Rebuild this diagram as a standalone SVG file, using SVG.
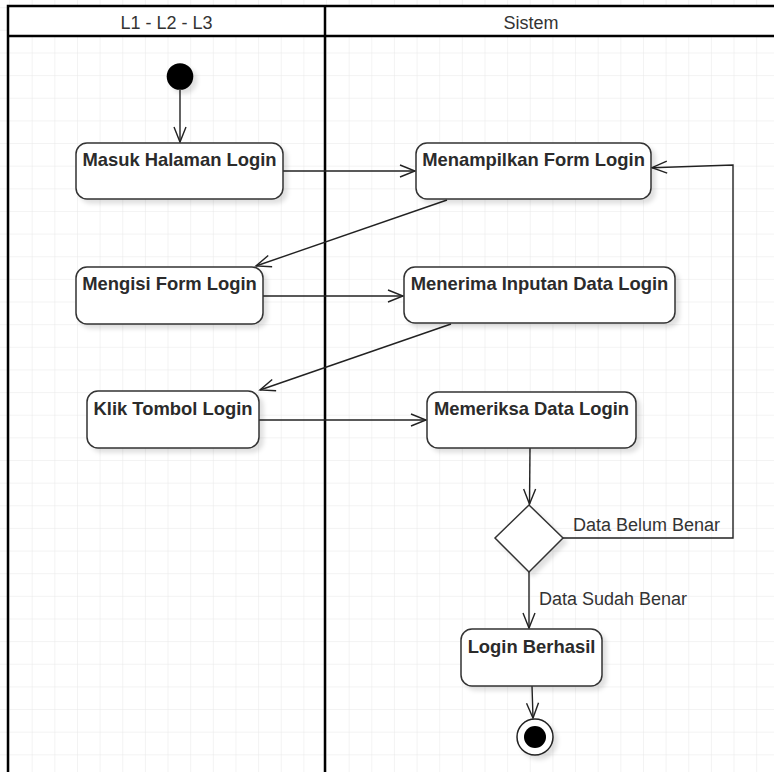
<svg xmlns="http://www.w3.org/2000/svg" width="774" height="772" viewBox="0 0 774 772">
<defs>
<pattern id="grid" x="9.06" y="7.2" width="22.64" height="22.64" patternUnits="userSpaceOnUse">
<path d="M0 0 H22.64 M0 0 V22.64" fill="none" stroke="#e8e8e8" stroke-width="1"/>
</pattern>
<filter id="sh" x="-20%" y="-20%" width="150%" height="160%">
<feDropShadow dx="4" dy="4" stdDeviation="2" flood-color="#000" flood-opacity="0.12"/>
</filter>
<marker id="open" markerUnits="userSpaceOnUse" markerWidth="20" markerHeight="16" viewBox="-17 -8 20 16" refX="0" refY="0" orient="auto" overflow="visible">
<path d="M-15 -6 L0 0 L-15 6" fill="none" stroke="#222" stroke-width="1.4"/>
</marker>
<style>
.node{fill:#fff;stroke:#333;stroke-width:1.5;filter:url(#sh)}
.lbl{font-family:"Liberation Sans",Arial,sans-serif;font-size:18.4px;font-weight:bold;fill:#2b2b2b;text-anchor:middle}
.hdr{font-family:"Liberation Sans",Arial,sans-serif;font-size:18px;fill:#333;text-anchor:middle}
.elbl{font-family:"Liberation Sans",Arial,sans-serif;font-size:18px;fill:#333}
.edge{fill:none;stroke:#222;stroke-width:1.4;marker-end:url(#open)}
.lane{fill:none;stroke:#000;stroke-width:2.5}
</style>
</defs>
<rect width="774" height="772" fill="#fff"/>
<rect width="774" height="772" fill="url(#grid)"/>
<g id="pool">
<rect x="8" y="6" width="800" height="30" fill="#fff"/>
<path class="lane" d="M8 800 V6 H800 M8 36 H800 M325 6 V800"/>
<text class="hdr" x="166.5" y="29">L1 - L2 - L3</text>
<text class="hdr" x="531" y="29">Sistem</text>
</g>
<g id="connectors">
<path class="edge" d="M180 90 V142"/>
<path class="edge" d="M283 171 H415"/>
<path class="edge" d="M447 200 L256 266"/>
<path class="edge" d="M263 296 H403"/>
<path class="edge" d="M451 324 L260 390"/>
<path class="edge" d="M259 420 H426"/>
<path class="edge" d="M530 448 L529.5 504"/>
<path class="edge" d="M563 538 H733 V165 L652 167.7"/>
<path class="edge" d="M529 572 V628"/>
<path class="edge" d="M532 686 L533 718"/>
<text class="elbl" x="573" y="531">Data Belum Benar</text>
<text class="elbl" x="539" y="605">Data Sudah Benar</text>
</g>
<g id="start">
<circle cx="180" cy="76.5" r="13.3" fill="#000" filter="url(#sh)"/>
</g>
<g id="masuk">
<rect class="node" x="76" y="143" width="207" height="56" rx="11"/>
<text class="lbl" x="179.5" y="166">Masuk Halaman Login</text>
</g>
<g id="menampilkan">
<rect class="node" x="416" y="143" width="235" height="56" rx="11"/>
<text class="lbl" x="533.5" y="166">Menampilkan Form Login</text>
</g>
<g id="mengisi">
<rect class="node" x="76" y="267" width="187" height="57" rx="11"/>
<text class="lbl" x="169.5" y="290">Mengisi Form Login</text>
</g>
<g id="menerima">
<rect class="node" x="404" y="267" width="271" height="56" rx="11"/>
<text class="lbl" x="539.5" y="290">Menerima Inputan Data Login</text>
</g>
<g id="klik">
<rect class="node" x="87" y="391" width="172" height="57" rx="11"/>
<text class="lbl" x="173" y="415">Klik Tombol Login</text>
</g>
<g id="memeriksa">
<rect class="node" x="427" y="392" width="209" height="56" rx="11"/>
<text class="lbl" x="531.5" y="415">Memeriksa Data Login</text>
</g>
<g id="decision">
<polygon class="node" points="529,505 563,538 529,572 495,538"/>
</g>
<g id="berhasil">
<rect class="node" x="461" y="629" width="141" height="57" rx="11"/>
<text class="lbl" x="531.5" y="653">Login Berhasil</text>
</g>
<g id="end">
<circle cx="535" cy="737" r="18" fill="#fff" stroke="#222" stroke-width="1.5" filter="url(#sh)"/>
<circle cx="535" cy="737" r="11" fill="#000"/>
</g>
</svg>
